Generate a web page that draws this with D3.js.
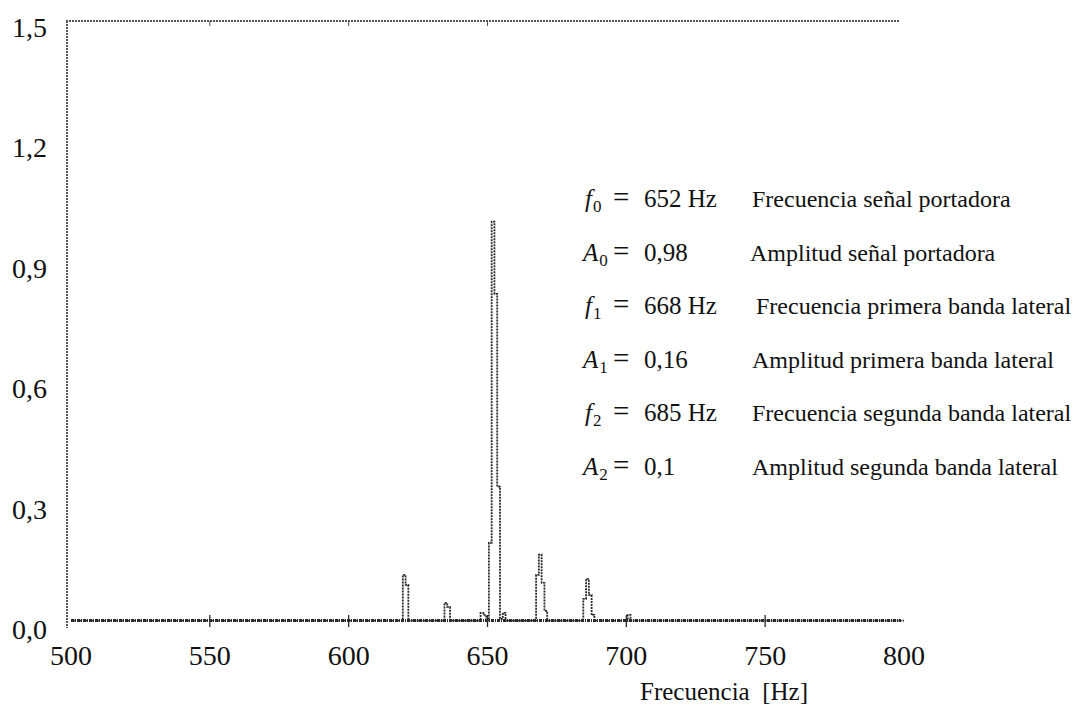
<!DOCTYPE html>
<html>
<head>
<meta charset="utf-8">
<script src="https://cdn.jsdelivr.net/npm/d3@7"></script>
<style>
  body { margin: 0; background: #fff; }
  text { font-family: "Liberation Serif", "Times New Roman", "DejaVu Serif", serif; fill: #111; }
</style>
</head>
<body>
<div id="chart"></div>
<script>
const specFreq = [500, 619, 620, 621, 622, 634, 635, 636, 637, 647, 648, 649, 650,
                  651, 652, 653, 654, 655, 656, 657, 667, 668, 669, 670, 671, 672,
                  684, 685, 686, 687, 688, 689, 700, 701, 702, 800];
const specAmp  = [0.006, 0.006, 0.12, 0.095, 0.006, 0.006, 0.05, 0.04, 0.006, 0.006, 0.025, 0.02, 0.006,
                  0.2, 1.0, 0.82, 0.34, 0.01, 0.025, 0.006, 0.006, 0.12, 0.17, 0.10, 0.03, 0.006,
                  0.006, 0.06, 0.11, 0.07, 0.02, 0.006, 0.006, 0.02, 0.006, 0.006];

const xTicks = [500, 550, 600, 650, 700, 750, 800];
const yTicks = [0.0, 0.3, 0.6, 0.9, 1.2, 1.5];

// Anotaciones: simbolo, subindice, valor, descripcion
const annSym  = ["f", "A", "f", "A", "f", "A"];
const annSub  = ["0", "0", "1", "1", "2", "2"];
const annVal  = ["652 Hz", "0,98", "668 Hz", "0,16", "685 Hz", "0,1"];
const annDesc = ["Frecuencia señal portadora", "Amplitud señal portadora",
                 "Frecuencia primera banda lateral", "Amplitud primera banda lateral",
                 "Frecuencia segunda banda lateral", "Amplitud segunda banda lateral"];

const W = 1092, H = 709;
const svg = d3.select("#chart").append("svg")
    .attr("width", W)
    .attr("height", H);

const x = d3.scaleLinear().domain([500, 800]).range([71, 904]);
const y = d3.scaleLinear().domain([0, 1.5]).range([623, 21]);

const fmt = d => d3.format(".1f")(d).replace(".", ",");
const ink = "#2a2a2a";

// marco: eje izquierdo y linea superior
svg.append("line")
    .attr("x1", x(500) - 4).attr("x2", x(500) - 4)
    .attr("y1", y(1.5)).attr("y2", y(0) + 5)
    .attr("stroke", "#555").attr("stroke-width", 2)
    .attr("stroke-dasharray", "2,1");
svg.append("line")
    .attr("x1", x(500) - 5).attr("x2", x(800) - 5)
    .attr("y1", y(1.5)).attr("y2", y(1.5))
    .attr("stroke", "#555").attr("stroke-width", 2)
    .attr("stroke-dasharray", "2,1");

// marcas de las divisiones
svg.append("g").selectAll("line")
    .data(xTicks.slice(1, -1))
    .join("line")
    .attr("x1", d => x(d)).attr("x2", d => x(d))
    .attr("y1", y(0) + 4).attr("y2", y(0) - 8)
    .attr("stroke", ink).attr("stroke-width", 1.3);
svg.append("g").selectAll("line")
    .data(xTicks.slice(1, 4))
    .join("line")
    .attr("x1", d => x(d)).attr("x2", d => x(d))
    .attr("y1", y(1.5)).attr("y2", y(1.5) + 5)
    .attr("stroke", "#555").attr("stroke-width", 1);

// etiquetas de los ejes
svg.append("g").selectAll("text")
    .data(yTicks)
    .join("text")
    .attr("x", 47)
    .attr("y", d => y(d) + 16)
    .attr("text-anchor", "end")
    .attr("font-size", 28)
    .text(fmt);

svg.append("g").selectAll("text")
    .data(xTicks)
    .join("text")
    .attr("x", d => x(d))
    .attr("y", 665)
    .attr("text-anchor", "middle")
    .attr("font-size", 28)
    .text(d => d);

svg.append("text")
    .attr("x", 808)
    .attr("y", 700)
    .attr("text-anchor", "end")
    .attr("font-size", 25)
    .attr("xml:space", "preserve")
    .text("Frecuencia  [Hz]");

// linea base (ruido)
svg.append("line")
    .attr("x1", x(500)).attr("x2", x(800) - 3)
    .attr("y1", y(0.006)).attr("y2", y(0.006))
    .attr("stroke", ink).attr("stroke-width", 3)
    .attr("stroke-dasharray", "3,1,1,1");

// espectro
const spec = specFreq.map((f, i) => [f, specAmp[i]]);
svg.append("path")
    .datum(spec)
    .attr("d", d3.line().x(d => x(d[0])).y(d => y(d[1])).curve(d3.curveStep))
    .attr("fill", "none")
    .attr("stroke", ink)
    .attr("stroke-width", 1.8)
    .attr("stroke-dasharray", "2,1");

// anotaciones
const rowY = d3.range(annSym.length).map(i => 207 + i * 53.6);
const ann = svg.append("g");

const sym = ann.selectAll("text.sym")
    .data(annSym)
    .join("text")
    .attr("class", "sym")
    .attr("x", d => d === "f" ? 585 : 583)
    .attr("y", (d, i) => rowY[i])
    .attr("font-size", 25);
sym.append("tspan").attr("font-style", "italic").text(d => d);
sym.append("tspan").attr("font-size", 17).attr("dy", 5).attr("dx", 1).text((d, i) => annSub[i]);

ann.selectAll("text.eq")
    .data(annSym)
    .join("text")
    .attr("class", "eq")
    .attr("x", 613)
    .attr("y", (d, i) => rowY[i])
    .attr("font-size", 29)
    .text("=");

ann.selectAll("text.val")
    .data(annVal)
    .join("text")
    .attr("class", "val")
    .attr("x", 644)
    .attr("y", (d, i) => rowY[i])
    .attr("font-size", 25)
    .text(d => d);

ann.selectAll("text.desc")
    .data(annDesc)
    .join("text")
    .attr("class", "desc")
    .attr("x", (d, i) => [752, 750, 756, 752, 752, 752][i])
    .attr("y", (d, i) => rowY[i])
    .attr("font-size", 24)
    .text(d => d);
</script>
</body>
</html>
